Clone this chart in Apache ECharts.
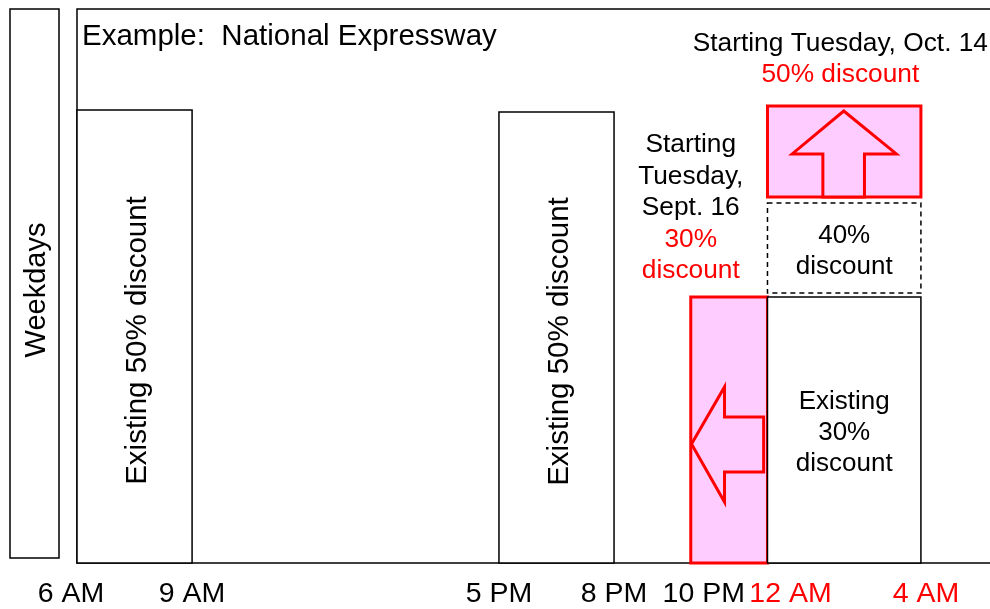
<!DOCTYPE html>
<html><head><meta charset="utf-8">
<script src="https://cdn.jsdelivr.net/npm/echarts@6/dist/echarts.min.js"></script>
<style>html,body{margin:0;padding:0;background:#fff}#c{width:990px;height:609px}</style>
</head><body><div id="c"></div>
<script>
// ---- tick labels (hours; 24 = midnight, 28 = 4 AM next day)
const tickHours  = [6, 9, 17, 20, 22, 24, 28];
const tickLabels = ['6 AM', '9 AM', '5 PM', '8 PM', '10 PM', '12 AM', '4 AM'];
const tickRed    = [false, false, false, false, false, true, true];

// ---- discount periods (hour range, vertical extent in chart units)
const periodStart  = [6, 17, 22, 24, 24, 24];
const periodEnd    = [9, 20, 24, 28, 28, 28];
const periodBottom = [0, 0, 0, 0, 270, 366];
const periodTop    = [453, 451, 266, 266, 360, 457];
const periodText   = ['Existing 50% discount', 'Existing 50% discount', '', 'Existing\n30%\ndiscount', '40%\ndiscount', ''];
const periodKind   = ['existing', 'existing', 'new', 'existing', 'planned', 'new'];
const periodArrow  = ['', '', 'left', '', '', 'up'];

// ---- annotations
const noteHour  = [22, 25.9];
const noteY     = [355, 504];
const noteBlack = ['Starting\nTuesday,\nSept. 16', 'Starting Tuesday, Oct. 14'];
const noteRed   = ['30%\ndiscount', '50% discount'];

const FONT = '"Liberation Sans", Arial, Helvetica, sans-serif';
const PINK = '#FFCCFF', RED = '#FF0000';

// style-only pixel nudges for axis labels
const labelNudge = [-6, 0, 0, 0, 13, 23, 5];
const rich = {};
tickHours.forEach((h, i) => {
  const n = labelNudge[i];
  rich['t' + i] = {
    color: tickRed[i] ? RED : '#000', fontSize: 28.5, fontFamily: FONT,
    padding: [0, n < 0 ? -2 * n : 0, 0, n > 0 ? 2 * n : 0]
  };
});

function arrowPoints(dir, x, y, w, h) {
  let f;
  if (dir === 'left') {
    f = [[0.01, 0.553], [0.44, 0.338], [0.44, 0.451], [0.95, 0.451], [0.95, 0.658], [0.44, 0.658], [0.44, 0.771]];
  } else {
    f = [[0.497, 0.055], [0.84, 0.527], [0.632, 0.527], [0.632, 1.0], [0.361, 1.0], [0.361, 0.527], [0.161, 0.527]];
  }
  return f.map(p => [x + p[0] * w, y + p[1] * h]);
}

function renderPeriod(params, api) {
  const i = params.dataIndex;
  const p0 = api.coord([api.value(0), api.value(3)]);
  const p1 = api.coord([api.value(1), api.value(2)]);
  const x = p0[0], y = p0[1], w = p1[0] - p0[0], h = p1[1] - p0[1];
  const kind = periodKind[i];
  const children = [];
  let style;
  if (kind === 'existing') style = { fill: '#fff', stroke: '#000', lineWidth: 1.5 };
  else if (kind === 'planned') style = { fill: 'none', stroke: '#000', lineWidth: 1.5, lineDash: [5, 4] };
  else style = { fill: PINK, stroke: RED, lineWidth: 3 };
  children.push({ type: 'rect', shape: { x: x, y: y, width: w, height: h }, style: style });
  if (periodArrow[i]) {
    children.push({
      type: 'polygon', shape: { points: arrowPoints(periodArrow[i], x, y, w, h) },
      style: { fill: PINK, stroke: RED, lineWidth: 3 }
    });
  }
  const txt = periodText[i];
  if (txt) {
    const vertical = txt.indexOf('\n') < 0;
    children.push({
      type: 'text', x: x + w / 2 + (vertical ? 3 : 0), y: y + h / 2 + (vertical ? 4 : 3),
      rotation: vertical ? Math.PI / 2 : 0,
      style: {
        text: txt, fill: '#000', fontSize: vertical ? 29.5 : 26, fontFamily: FONT,
        align: 'center', verticalAlign: 'middle', lineHeight: 31
      }
    });
  }
  return { type: 'group', children: children };
}

function renderNote(params, api) {
  const i = params.dataIndex;
  const p = api.coord([api.value(0), api.value(1)]);
  return {
    type: 'text', x: p[0], y: p[1],
    style: {
      text: '{b|' + noteBlack[i] + '}\n{r|' + noteRed[i] + '}',
      align: 'center', verticalAlign: 'middle',
      rich: {
        b: { fill: '#000', fontSize: 26.3, fontFamily: FONT, lineHeight: 31.5 },
        r: { fill: RED, fontSize: 26.3, fontFamily: FONT, lineHeight: 31.5 }
      }
    }
  };
}

const chart = echarts.init(document.getElementById('c'), null, { renderer: 'canvas' });
chart.setOption({
  animation: false,
  backgroundColor: '#fff',
  title: {
    text: 'Example:  National Expressway', left: 82, top: 21, padding: 0,
    textStyle: { fontSize: 29.5, fontWeight: 'normal', color: '#000', fontFamily: FONT, lineHeight: 32 }
  },
  grid: {
    left: 77, top: 9, width: 930, height: 554, outerBoundsMode: 'none', containLabel: false,
    show: true, borderColor: '#000', borderWidth: 1.5, backgroundColor: 'transparent'
  },
  xAxis: {
    type: 'value', min: 6, max: 6 + 930 / 38.36,
    axisLine: { show: false }, axisTick: { show: false }, splitLine: { show: false },
    axisLabel: {
      customValues: tickHours, margin: 17, hideOverlap: false,
      formatter: function (v) {
        const i = tickHours.indexOf(v);
        return i < 0 ? '' : '{t' + i + '|' + tickLabels[i] + '}';
      },
      rich: rich
    }
  },
  yAxis: { type: 'value', min: 0, max: 554, show: false, splitLine: { show: false } },
  graphic: [
    { type: 'rect', shape: { x: 10, y: 9, width: 49, height: 549 }, style: { fill: '#fff', stroke: '#000', lineWidth: 1.5 } },
    { type: 'text', x: 37, y: 290, rotation: Math.PI / 2,
      style: { text: 'Weekdays', fill: '#000', fontSize: 29, fontFamily: FONT, align: 'center', verticalAlign: 'middle' } }
  ],
  series: [
    {
      type: 'custom', renderItem: renderPeriod, clip: false,
      data: periodStart.map((s, i) => [s, periodEnd[i], periodBottom[i], periodTop[i]])
    },
    {
      type: 'custom', renderItem: renderNote, clip: false,
      data: noteHour.map((h, i) => [h, noteY[i]])
    }
  ]
});
</script></body></html>
